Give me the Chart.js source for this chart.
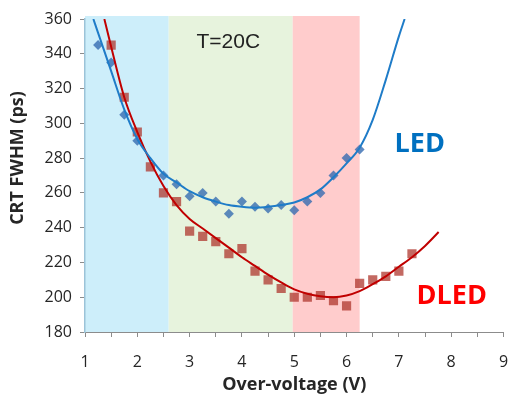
<!DOCTYPE html>
<html>
<head>
<meta charset="utf-8">
<script src="https://cdn.jsdelivr.net/npm/chart.js@4"></script>
<style>
  html, body { margin: 0; padding: 0; background: #fff; }
  #wrap { width: 510px; height: 400px; }
</style>
</head>
<body>
<div id="wrap"><canvas id="c" width="510" height="400"></canvas></div>
<script>
// measured points
const ledX = [1.25, 1.5, 1.75, 2, 2.5, 2.75, 3, 3.25, 3.5, 3.75, 4, 4.25, 4.5, 4.75, 5, 5.25, 5.5, 5.75, 6, 6.25];
const ledY = [345, 335, 305, 290, 270, 265, 258, 260, 255, 248, 255, 252, 251, 253, 250, 255, 260, 270, 280, 285];
const dledX = [1.5, 1.75, 2, 2.25, 2.5, 2.75, 3, 3.25, 3.5, 3.75, 4, 4.25, 4.5, 4.75, 5, 5.25, 5.5, 5.75, 6, 6.25, 6.5, 6.75, 7, 7.25];
const dledY = [345, 315, 295, 275, 260, 255, 238, 235, 232, 225, 228, 215, 210, 205, 200, 200, 201, 198, 195, 208, 210, 212, 215, 225];

// trend lines
const ledFitX = [1.16, 1.25, 1.5, 1.75, 2, 2.25, 2.5, 2.75, 3, 3.25, 3.5, 3.75, 4, 4.25, 4.5, 4.75, 5, 5.25, 5.5, 5.75, 6, 6.25, 6.5, 6.75, 7, 7.11];
const ledFitY = [360, 352, 330, 308, 291, 280, 271, 266, 261, 257.5, 255, 253, 252, 251.5, 252, 253, 254.5, 257.5, 262, 269, 277, 286, 302, 325, 350, 360];
const dledFitX = [1.37, 1.5, 1.75, 2, 2.25, 2.5, 2.75, 3, 3.25, 3.5, 3.75, 4, 4.25, 4.5, 4.75, 5, 5.25, 5.5, 5.75, 6, 6.25, 6.5, 6.75, 7, 7.25, 7.5, 7.76];
const dledFitY = [360, 344, 315, 295, 278, 264, 253, 245, 239.5, 234, 228.5, 223, 218, 213, 208.5, 204.5, 202, 200.5, 200, 201, 203.5, 207.5, 212, 217.5, 223, 229.5, 237.5];

// shaded voltage ranges
const bandStarts = [1, 2.6, 4.97];
const bandEnds = [2.6, 4.97, 6.25];
const bandColors = ['#cdeefa', '#e7f3dd', '#ffcccc'];

const xTicks = [1, 9];
const yTicks = [180, 360];

function pts(xs, ys) {
  return xs.map((x, i) => ({ x: x, y: ys[i] }));
}

const bandsPlugin = {
  id: 'bands',
  beforeDraw(chart) {
    const { ctx, chartArea, scales } = chart;
    ctx.save();
    bandStarts.forEach((s, i) => {
      const x0 = scales.x.getPixelForValue(s);
      const x1 = scales.x.getPixelForValue(bandEnds[i]);
      ctx.fillStyle = bandColors[i];
      ctx.fillRect(x0, chartArea.top - 3, x1 - x0, chartArea.bottom - chartArea.top + 3);
    });
    ctx.restore();
  }
};

const labelsPlugin = {
  id: 'labels',
  afterDraw(chart) {
    const { ctx, scales } = chart;
    const x = scales.x, y = scales.y;
    ctx.save();
    ctx.textAlign = 'center';
    ctx.textBaseline = 'middle';
    ctx.fillStyle = '#222';
    ctx.font = '21px "Liberation Sans", Arial, sans-serif';
    ctx.fillText('T=20C', x.getPixelForValue(3.74), y.getPixelForValue(346.7));
    ctx.font = 'bold 27px "Open Sans", sans-serif';
    ctx.fillStyle = '#0070c0';
    ctx.fillText('LED', x.getPixelForValue(7.4), y.getPixelForValue(287.7));
    ctx.fillStyle = '#ff0000';
    ctx.fillText('DLED', x.getPixelForValue(8.01), y.getPixelForValue(200.3));
    // y axis title
    ctx.translate(18, 158);
    ctx.rotate(-Math.PI / 2);
    ctx.fillStyle = '#262626';
    ctx.font = 'bold 18px "Open Sans", sans-serif';
    ctx.fillText('CRT FWHM (ps)', 0, 0);
    ctx.restore();
  }
};

new Chart(document.getElementById('c'), {
  type: 'scatter',
  data: {
    datasets: [
      {
        label: 'LED fit',
        data: pts(ledFitX, ledFitY),
        showLine: true,
        borderColor: '#1f7cc8',
        borderWidth: 2,
        pointRadius: 0,
        cubicInterpolationMode: 'monotone'
      },
      {
        label: 'DLED fit',
        data: pts(dledFitX, dledFitY),
        showLine: true,
        borderColor: '#c00000',
        borderWidth: 2,
        pointRadius: 0,
        cubicInterpolationMode: 'monotone'
      },
      {
        label: 'LED',
        data: pts(ledX, ledY),
        pointStyle: 'rectRot',
        pointRadius: 5,
        backgroundColor: 'rgba(50,105,175,0.78)',
        borderWidth: 0
      },
      {
        label: 'DLED',
        data: pts(dledX, dledY),
        pointStyle: 'rect',
        pointRadius: 6.5,
        backgroundColor: 'rgba(175,55,45,0.75)',
        borderWidth: 0
      }
    ]
  },
  options: {
    responsive: false,
    animation: false,
    layout: { padding: { top: 19, right: 1, left: 0, bottom: 0 } },
    plugins: {
      legend: { display: false },
      tooltip: { enabled: false }
    },
    scales: {
      x: {
        type: 'linear',
        min: xTicks[0],
        max: xTicks[1],
        afterFit(s) {
          s.height = 68;
          s.paddingLeft = 0;
          s.paddingRight = 0;
        },
        grid: { drawOnChartArea: false, tickLength: 5, color: '#8c8c8c' },
        border: { color: '#8c8c8c', width: 1 },
        ticks: {
          stepSize: 0.5,
          padding: 16,
          color: '#262626',
          font: { family: '"Open Sans", sans-serif', size: 16 },
          callback: v => Number.isInteger(v) ? v : ''
        },
        title: {
          display: true,
          text: 'Over-voltage (V)',
          color: '#262626',
          font: { family: '"Open Sans", sans-serif', size: 18, weight: 'bold' },
          padding: { top: 0, bottom: 4 }
        }
      },
      y: {
        min: yTicks[0],
        max: yTicks[1],
        afterFit(s) { s.width = 85; },
        grid: { drawOnChartArea: false, tickLength: 5, color: '#8c8c8c' },
        border: { color: '#9cc3d8', width: 1.5 },
        ticks: {
          stepSize: 20,
          padding: 8,
          color: '#262626',
          font: { family: '"Open Sans", sans-serif', size: 16 }
        }
      }
    }
  },
  plugins: [bandsPlugin, labelsPlugin]
});
</script>
</body>
</html>
